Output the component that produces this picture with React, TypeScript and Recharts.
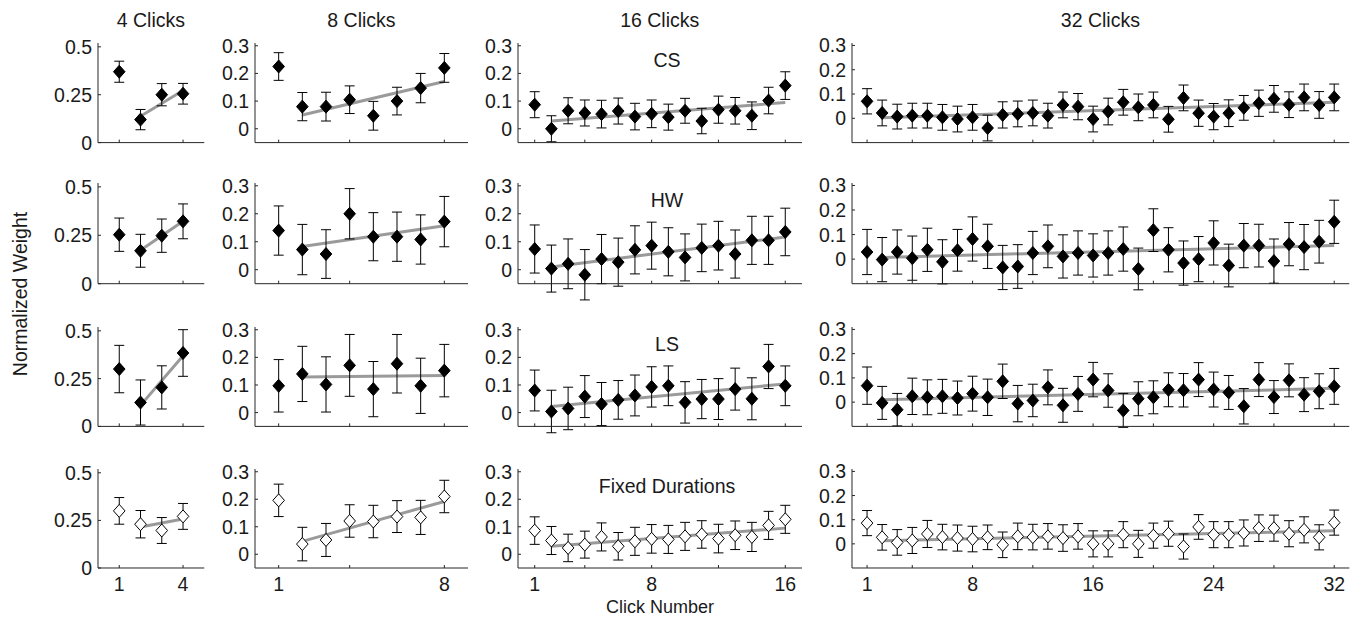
import React from 'react';
import { ComposedChart, Scatter, Line, XAxis, YAxis, ErrorBar } from 'recharts';

// headings
const clickCounts = [4, 8, 16, 32];
const columnTitles = ['4 Clicks', '8 Clicks', '16 Clicks', '32 Clicks'];
const rowLabels = ['CS', 'HW', 'LS', 'Fixed Durations'];

// axes per column
const xDomains = [[0, 5], [0, 9], [0, 17], [0, 33]];
const xTickMarks = [[1, 4], [1, 4, 8], [1, 4, 8, 12, 16], [1, 4, 8, 12, 16, 20, 24, 28, 32]];
const xTickLabels = [[1, 4], [1, 8], [1, 8, 16], [1, 8, 16, 24, 32]];
const yDomains = [[0, 0.52], [-0.05, 0.31], [-0.05, 0.31], [-0.1, 0.31]];
const yTicks = [[0, 0.25, 0.5], [0, 0.1, 0.2, 0.3], [0, 0.1, 0.2, 0.3], [0, 0.1, 0.2, 0.3]];

// CS
const cs4 = [0.37, 0.12, 0.25, 0.255];
const cs4Err = [0.055, 0.053, 0.058, 0.054];
const cs4Fit = [0.138, 0.272];
const cs8 = [0.225, 0.08, 0.08, 0.105, 0.047, 0.1, 0.147, 0.22];
const cs8Err = [0.05, 0.051, 0.052, 0.05, 0.052, 0.05, 0.053, 0.052];
const cs8Fit = [0.05, 0.171];
const cs16 = [0.087, 0, 0.065, 0.057, 0.053, 0.064, 0.044, 0.054, 0.042, 0.065, 0.028, 0.069, 0.065, 0.047, 0.102, 0.156];
const cs16Err = [0.047, 0.047, 0.047, 0.047, 0.05, 0.047, 0.048, 0.05, 0.047, 0.045, 0.046, 0.049, 0.048, 0.05, 0.048, 0.05];
const cs16Fit = [0.028, 0.095];
const cs32 = [0.07, 0.022, 0.007, 0.011, 0.011, 0.004, -0.003, 0.004, -0.04, 0.014, 0.018, 0.022, 0.011, 0.055, 0.048, -0.003,
  0.028, 0.066, 0.045, 0.055, -0.004, 0.084, 0.021, 0.007, 0.021, 0.043, 0.062, 0.08, 0.056, 0.086, 0.055, 0.086];
const cs32Err = [0.052, 0.053, 0.051, 0.051, 0.051, 0.053, 0.053, 0.053, 0.053, 0.054, 0.053, 0.053, 0.051, 0.053, 0.054, 0.053,
  0.055, 0.053, 0.055, 0.053, 0.053, 0.053, 0.054, 0.054, 0.055, 0.051, 0.054, 0.055, 0.053, 0.055, 0.055, 0.055];
const cs32Fit = [0.002, 0.066];

// HW
const hw4 = [0.253, 0.17, 0.248, 0.322];
const hw4Err = [0.086, 0.085, 0.086, 0.09];
const hw4Fit = [0.173, 0.323];
const hw8 = [0.14, 0.072, 0.056, 0.2, 0.118, 0.118, 0.108, 0.172];
const hw8Err = [0.088, 0.09, 0.087, 0.09, 0.086, 0.088, 0.088, 0.09];
const hw8Fit = [0.083, 0.157];
const hw16 = [0.074, 0.004, 0.021, -0.018, 0.038, 0.027, 0.071, 0.086, 0.064, 0.044, 0.078, 0.086, 0.056, 0.105, 0.105, 0.135];
const hw16Err = [0.086, 0.084, 0.089, 0.09, 0.088, 0.086, 0.086, 0.084, 0.086, 0.084, 0.085, 0.087, 0.086, 0.086, 0.086, 0.085];
const hw16Fit = [0.01, 0.117];
const hw32 = [0.029, -0.002, 0.029, 0.004, 0.038, -0.011, 0.036, 0.082, 0.052, -0.034, -0.03, 0.025, 0.052, 0.011, 0.025, 0.015,
  0.025, 0.041, -0.04, 0.118, 0.038, -0.016, 0, 0.066, -0.026, 0.055, 0.055, -0.008, 0.061, 0.049, 0.071, 0.152];
const hw32Err = [0.092, 0.09, 0.09, 0.09, 0.088, 0.09, 0.085, 0.09, 0.09, 0.09, 0.089, 0.088, 0.087, 0.088, 0.09, 0.088,
  0.09, 0.09, 0.085, 0.087, 0.09, 0.09, 0.092, 0.09, 0.087, 0.09, 0.087, 0.09, 0.088, 0.092, 0.087, 0.088];
const hw32Fit = [0.007, 0.055];

// LS
const ls4 = [0.3, 0.125, 0.204, 0.384];
const ls4Err = [0.124, 0.118, 0.113, 0.122];
const ls4Fit = [0.11, 0.37];
const ls8 = [0.097, 0.14, 0.102, 0.171, 0.085, 0.177, 0.097, 0.152];
const ls8Err = [0.095, 0.1, 0.1, 0.112, 0.1, 0.106, 0.1, 0.095];
const ls8Fit = [0.129, 0.134];
const ls16 = [0.08, 0.004, 0.015, 0.058, 0.031, 0.046, 0.062, 0.093, 0.097, 0.037, 0.049, 0.049, 0.085, 0.05, 0.167, 0.097];
const ls16Err = [0.074, 0.077, 0.077, 0.076, 0.078, 0.07, 0.074, 0.073, 0.072, 0.075, 0.071, 0.074, 0.076, 0.076, 0.08, 0.072];
const ls16Fit = [0.022, 0.104];
const ls32 = [0.068, -0.003, -0.031, 0.024, 0.02, 0.024, 0.017, 0.035, 0.02, 0.086, -0.006, 0.007, 0.061, -0.013, 0.034, 0.093,
  0.048, -0.034, 0.014, 0.02, 0.051, 0.049, 0.093, 0.052, 0.04, -0.017, 0.093, 0.021, 0.09, 0.031, 0.045, 0.065];
const ls32Err = [0.077, 0.068, 0.067, 0.075, 0.072, 0.07, 0.07, 0.072, 0.075, 0.071, 0.075, 0.067, 0.072, 0.07, 0.072, 0.071,
  0.069, 0.07, 0.07, 0.068, 0.07, 0.069, 0.07, 0.072, 0.07, 0.073, 0.07, 0.068, 0.068, 0.07, 0.072, 0.074];
const ls32Fit = [0.01, 0.057];

// Fixed Durations
const fd4 = [0.3, 0.23, 0.197, 0.271];
const fd4Err = [0.07, 0.072, 0.068, 0.068];
const fd4Fit = [0.215, 0.257];
const fd8 = [0.196, 0.037, 0.052, 0.121, 0.119, 0.137, 0.134, 0.21];
const fd8Err = [0.059, 0.061, 0.06, 0.059, 0.059, 0.058, 0.062, 0.059];
const fd8Fit = [0.047, 0.192];
const fd16 = [0.086, 0.05, 0.023, 0.035, 0.063, 0.029, 0.047, 0.056, 0.054, 0.065, 0.072, 0.057, 0.069, 0.063, 0.105, 0.127];
const fd16Err = [0.05, 0.051, 0.05, 0.049, 0.051, 0.05, 0.051, 0.052, 0.051, 0.051, 0.05, 0.052, 0.052, 0.053, 0.051, 0.051];
const fd16Fit = [0.029, 0.095];
const fd32 = [0.086, 0.027, 0.006, 0.014, 0.041, 0.028, 0.024, 0.02, 0.027, -0.004, 0.031, 0.028, 0.031, 0.024, 0.031, 0,
  0, 0.038, 0, 0.034, 0.042, -0.011, 0.07, 0.038, 0.038, 0.045, 0.065, 0.065, 0.042, 0.058, 0.027, 0.088];
const fd32Err = [0.052, 0.053, 0.053, 0.054, 0.056, 0.053, 0.054, 0.053, 0.051, 0.053, 0.055, 0.053, 0.053, 0.055, 0.053, 0.054,
  0.054, 0.054, 0.056, 0.052, 0.052, 0.052, 0.051, 0.054, 0.054, 0.054, 0.055, 0.054, 0.054, 0.054, 0.052, 0.052];
const fd32Fit = [0.013, 0.054];

const values = [[cs4, cs8, cs16, cs32], [hw4, hw8, hw16, hw32], [ls4, ls8, ls16, ls32], [fd4, fd8, fd16, fd32]];
const errors = [[cs4Err, cs8Err, cs16Err, cs32Err], [hw4Err, hw8Err, hw16Err, hw32Err],
  [ls4Err, ls8Err, ls16Err, ls32Err], [fd4Err, fd8Err, fd16Err, fd32Err]];
const fits = [[cs4Fit, cs8Fit, cs16Fit, cs32Fit], [hw4Fit, hw8Fit, hw16Fit, hw32Fit],
  [ls4Fit, ls8Fit, ls16Fit, ls32Fit], [fd4Fit, fd8Fit, fd16Fit, fd32Fit]];

// layout (plot area of each panel, in page pixels)
const colLeft = [97.7, 255, 517.7, 851.7];
const colWidth = [106.3, 213, 284, 497.3];
const rowTop = [42.7, 183.3, 327.3, 469.3];
const rowHeight = [99.6, 100.7, 99.4, 99];

const FONT = '"Liberation Sans", Arial, Helvetica, sans-serif';
const FS = 19.5;
const TEXT = '#1a1a1a';
const AXIS = '#262626';
const PAD_L = 60, PAD_T = 8, PAD_R = 10, PAD_B = 34;

const XTick = ({ x, y, payload, labels }: any) => (
  <g>
    <line x1={x} x2={x} y1={y} y2={y - 3} stroke={AXIS} strokeWidth={1} />
    {labels.includes(payload.value) && (
      <text x={x} y={y + 23} textAnchor="middle" fontSize={FS} fontFamily={FONT} fill={TEXT}>
        {payload.value}
      </text>
    )}
  </g>
);

const YTick = ({ x, y, payload }: any) => (
  <g>
    <line x1={x} x2={x + 3} y1={y} y2={y} stroke={AXIS} strokeWidth={1} />
    <text x={x - 6} y={y + 7} textAnchor="end" fontSize={FS} fontFamily={FONT} fill={TEXT}>
      {String(payload.value)}
    </text>
  </g>
);

const Diamond = ({ cx, cy, hollow }: any) => (
  <path
    d={`M${cx},${cy - 6.5}L${cx + 5.8},${cy}L${cx},${cy + 6.5}L${cx - 5.8},${cy}Z`}
    fill={hollow ? '#ffffff' : '#000000'}
    stroke="#000000"
    strokeWidth={1}
  />
);

const Panel = ({ r, c }: { r: number; c: number }) => {
  const n = clickCounts[c];
  const points = values[r][c].map((v, i) => ({ x: i + 1, v, err: errors[r][c][i] }));
  const fitLine = [{ x: 2, v: fits[r][c][0] }, { x: n, v: fits[r][c][1] }];
  const hollow = r === 3;
  const labels = r === 3 ? xTickLabels[c] : [];
  return (
    <div style={{ position: 'absolute', left: colLeft[c] - PAD_L, top: rowTop[r] - PAD_T }}>
      <ComposedChart
        width={colWidth[c] + PAD_L + PAD_R}
        height={rowHeight[r] + PAD_T + PAD_B}
        margin={{ top: PAD_T, right: PAD_R, bottom: 0, left: 0 }}
      >
        <XAxis
          dataKey="x"
          type="number"
          domain={xDomains[c]}
          ticks={xTickMarks[c]}
          interval={0}
          allowDataOverflow
          height={PAD_B}
          tickLine={false}
          tickSize={0}
          tickMargin={0}
          axisLine={{ stroke: AXIS }}
          tick={(p: any) => <XTick {...p} labels={labels} />}
        />
        <YAxis
          dataKey="v"
          type="number"
          domain={yDomains[c]}
          ticks={yTicks[c]}
          interval={0}
          allowDataOverflow
          width={PAD_L}
          tickLine={false}
          tickSize={0}
          tickMargin={0}
          axisLine={{ stroke: AXIS }}
          tick={(p: any) => <YTick {...p} />}
        />
        <Line
          data={fitLine}
          dataKey="v"
          stroke="#9a9a9a"
          strokeWidth={3}
          dot={false}
          activeDot={false}
          isAnimationActive={false}
        />
        <Scatter
          data={points}
          dataKey="v"
          shape={(p: any) => <Diamond {...p} hollow={hollow} />}
          isAnimationActive={false}
        >
          <ErrorBar dataKey="err" direction="y" width={5} stroke="#000000" strokeWidth={1} />
        </Scatter>
      </ComposedChart>
    </div>
  );
};

const App = () => {
  return (
    <div style={{ position: 'absolute', left: 0, top: 0, width: 1356, height: 617, background: '#fff' }}>
      {rowLabels.map((_, r) => clickCounts.map((__, c) => <Panel key={`${r}-${c}`} r={r} c={c} />))}
      <svg width={1356} height={617} style={{ position: 'absolute', left: 0, top: 0, pointerEvents: 'none' }}>
        <g fontFamily={FONT} fontSize={FS} fill={TEXT}>
          {columnTitles.map((t, c) => (
            <text key={t} x={colLeft[c] + colWidth[c] / 2} y={27.3} textAnchor="middle">{t}</text>
          ))}
          {rowLabels.map((t, r) => (
            <text key={t} x={667} y={rowTop[r] + 24} textAnchor="middle">{t}</text>
          ))}
          <text x={660} y={613} textAnchor="middle" fontSize={18}>Click Number</text>
          <text x={26.5} y={294} textAnchor="middle" transform="rotate(-90 26.5 294)">Normalized Weight</text>
        </g>
      </svg>
    </div>
  );
};

export default App;
